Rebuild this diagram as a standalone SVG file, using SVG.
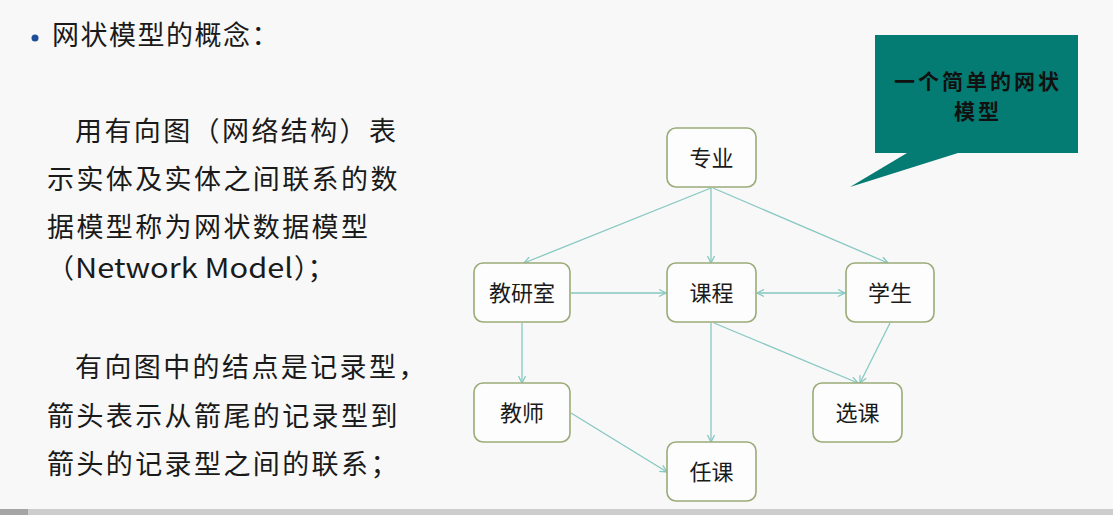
<svg xmlns="http://www.w3.org/2000/svg" width="1113" height="515" viewBox="0 0 1113 515">
<style>
.t{font-family:"Noto Sans CJK SC","Noto Sans",sans-serif;fill:#1a1a1a;font-size:27px;letter-spacing:2.4px}
.ti{font-family:"Noto Sans CJK SC","Noto Sans",sans-serif;fill:#1a1a1a;font-size:27px;letter-spacing:1.5px}
.n rect{fill:#fdfdfd;stroke:#9aab78;stroke-width:1.6}
.n text{font-family:"Noto Sans CJK SC","Noto Sans",sans-serif;fill:#1a1a1a;font-size:22px;text-anchor:middle}
.e{stroke:#86c8c2;stroke-width:1.3;fill:none;marker-end:url(#ah)}
.cl{font-family:"Noto Sans CJK SC",sans-serif;fill:#111;font-size:21px;font-weight:bold;text-anchor:middle;letter-spacing:3px}
</style>
<defs>
<marker id="ah" markerWidth="10" markerHeight="10" refX="8" refY="4" orient="auto" markerUnits="userSpaceOnUse">
<path d="M1,0.5 L8,4 L1,7.5" fill="none" stroke="#86c8c2" stroke-width="1.3"/>
</marker>
<marker id="as" markerWidth="10" markerHeight="10" refX="0" refY="4" orient="auto" markerUnits="userSpaceOnUse">
<path d="M7,0.5 L0,4 L7,7.5" fill="none" stroke="#86c8c2" stroke-width="1.3"/>
</marker>
</defs>
<rect width="1113" height="515" fill="#f8f8f8"/>
<rect x="0" y="509" width="1113" height="6" fill="#cdcdcd"/>
<rect x="0" y="509" width="28" height="6" fill="#a5a5a5"/>

<g id="text">
<circle cx="35" cy="38" r="3.5" fill="#1f4e99"/>
<text class="ti" x="52" y="45">网状模型的概念：</text>
<text class="t" x="75" y="141">用有向图（网络结构）表</text>
<text class="t" x="47" y="189">示实体及实体之间联系的数</text>
<text class="t" x="47" y="237">据模型称为网状数据模型</text>
<text class="t" x="47" y="278" style="letter-spacing:0">（<tspan x="75" textLength="218" lengthAdjust="spacingAndGlyphs">Network Model</tspan><tspan x="294">）；</tspan></text>
<text class="t" x="75" y="377">有向图中的结点是记录型，</text>
<text class="t" x="47" y="426">箭头表示从箭尾的记录型到</text>
<text class="t" x="47" y="474">箭头的记录型之间的联系；</text>
</g>

<g id="callout">
<path d="M875,35 H1078 V153 H958 L850,187 L907,153 H875 Z" fill="#047b73"/>
<text class="cl" x="978" y="89">一个简单的网状</text>
<text class="cl" x="978" y="119">模型</text>
</g>

<g id="connectors">
<line class="e" x1="711" y1="188" x2="524" y2="263"/>
<line class="e" x1="711" y1="188" x2="711" y2="263"/>
<line class="e" x1="713" y1="188" x2="888" y2="263"/>
<line class="e" x1="571" y1="293" x2="666" y2="293"/>
<line class="e" x1="757" y1="293" x2="845" y2="293" marker-start="url(#as)"/>
<line class="e" x1="522" y1="323" x2="522" y2="383"/>
<line class="e" x1="711" y1="323" x2="711" y2="442"/>
<line class="e" x1="714" y1="323" x2="858" y2="383"/>
<line class="e" x1="890" y1="323" x2="860" y2="383"/>
<line class="e" x1="571" y1="413" x2="667" y2="472"/>
</g>

<g id="n-zhuanye" class="n"><rect x="667" y="128" width="89" height="59" rx="9"/><text x="711.5" y="166">专业</text></g>
<g id="n-jiaoyanshi" class="n"><rect x="474" y="263" width="96" height="59" rx="9"/><text x="522" y="301">教研室</text></g>
<g id="n-kecheng" class="n"><rect x="667" y="263" width="89" height="59" rx="9"/><text x="711.5" y="301">课程</text></g>
<g id="n-xuesheng" class="n"><rect x="846" y="263" width="88" height="59" rx="9"/><text x="890" y="301">学生</text></g>
<g id="n-jiaoshi" class="n"><rect x="474" y="383" width="96" height="59" rx="9"/><text x="522" y="421">教师</text></g>
<g id="n-xuanke" class="n"><rect x="813" y="383" width="89" height="59" rx="9"/><text x="857.5" y="421">选课</text></g>
<g id="n-renke" class="n"><rect x="667" y="442" width="89" height="59" rx="9"/><text x="711.5" y="480">任课</text></g>
</svg>
